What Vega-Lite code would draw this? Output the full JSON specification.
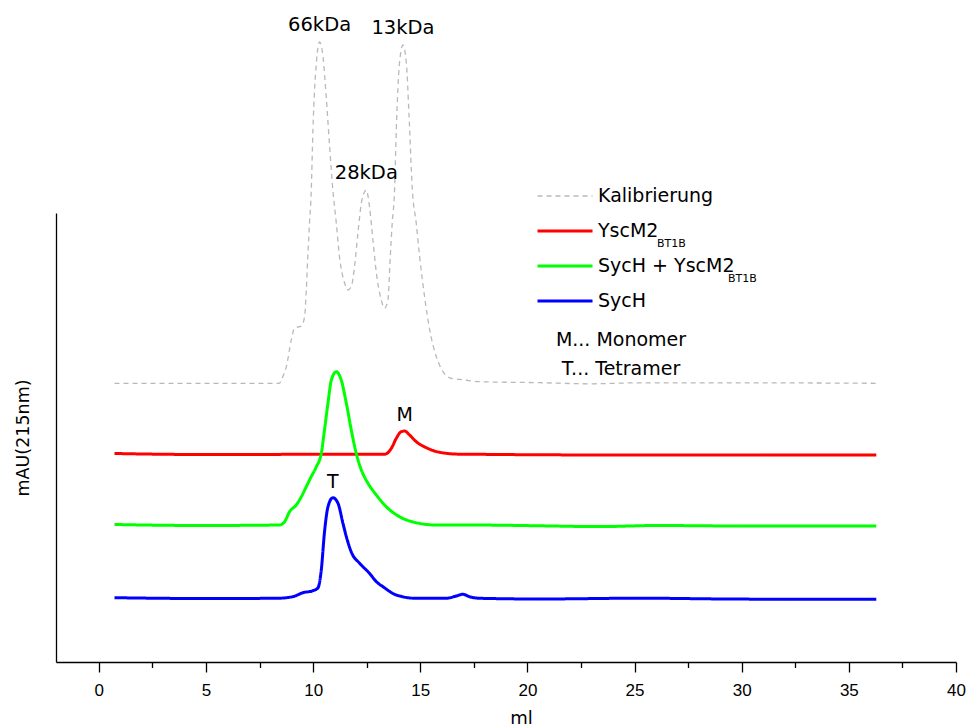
{
  "$schema": "https://vega.github.io/schema/vega-lite/v6.json",
  "width": 900,
  "height": 449,
  "autosize": {"type": "none"},
  "padding": {"left": 56, "top": 213, "right": 17, "bottom": 65},
  "background": "white",
  "config": {"view": {"stroke": null}, "font": "DejaVu Sans"},
  "title": {
    "text": ["M... Monomer", "T... Tetramer"],
    "orient": "top", "anchor": "start", "frame": "group", "align": "center",
    "baseline": "alphabetic", "offset": 0, "dx": 565, "dy": 379,
    "font": "DejaVu Sans", "fontSize": 19, "fontWeight": "normal",
    "lineHeight": 29, "color": "black"
  },
  "data": {
    "values": [
      {"series": "Kalibrierung", "ml": 0.73, "mAU": 278.7},
      {"series": "Kalibrierung", "ml": 4.7, "mAU": 278.7},
      {"series": "Kalibrierung", "ml": 8.43, "mAU": 278.7},
      {"series": "Kalibrierung", "ml": 8.51, "mAU": 282},
      {"series": "Kalibrierung", "ml": 8.75, "mAU": 295.3},
      {"series": "Kalibrierung", "ml": 8.98, "mAU": 322},
      {"series": "Kalibrierung", "ml": 9.13, "mAU": 334},
      {"series": "Kalibrierung", "ml": 9.45, "mAU": 336},
      {"series": "Kalibrierung", "ml": 9.6, "mAU": 345.3},
      {"series": "Kalibrierung", "ml": 9.68, "mAU": 372},
      {"series": "Kalibrierung", "ml": 9.75, "mAU": 405.3},
      {"series": "Kalibrierung", "ml": 9.83, "mAU": 439},
      {"series": "Kalibrierung", "ml": 9.91, "mAU": 470},
      {"series": "Kalibrierung", "ml": 9.99, "mAU": 532},
      {"series": "Kalibrierung", "ml": 10.15, "mAU": 599},
      {"series": "Kalibrierung", "ml": 10.3, "mAU": 620, "label": "66kDa"},
      {"series": "Kalibrierung", "ml": 10.46, "mAU": 605.3},
      {"series": "Kalibrierung", "ml": 10.61, "mAU": 565.3},
      {"series": "Kalibrierung", "ml": 10.77, "mAU": 515.3},
      {"series": "Kalibrierung", "ml": 10.92, "mAU": 472},
      {"series": "Kalibrierung", "ml": 11.08, "mAU": 439},
      {"series": "Kalibrierung", "ml": 11.23, "mAU": 405.3},
      {"series": "Kalibrierung", "ml": 11.47, "mAU": 379},
      {"series": "Kalibrierung", "ml": 11.62, "mAU": 372},
      {"series": "Kalibrierung", "ml": 11.78, "mAU": 375.3},
      {"series": "Kalibrierung", "ml": 11.93, "mAU": 395.3},
      {"series": "Kalibrierung", "ml": 12.09, "mAU": 429},
      {"series": "Kalibrierung", "ml": 12.25, "mAU": 459},
      {"series": "Kalibrierung", "ml": 12.4, "mAU": 470.3},
      {"series": "Kalibrierung", "ml": 12.48, "mAU": 472, "label": "28kDa"},
      {"series": "Kalibrierung", "ml": 12.63, "mAU": 455.3},
      {"series": "Kalibrierung", "ml": 12.79, "mAU": 422},
      {"series": "Kalibrierung", "ml": 12.95, "mAU": 389},
      {"series": "Kalibrierung", "ml": 13.18, "mAU": 362},
      {"series": "Kalibrierung", "ml": 13.33, "mAU": 353.7},
      {"series": "Kalibrierung", "ml": 13.49, "mAU": 362},
      {"series": "Kalibrierung", "ml": 13.6, "mAU": 405.3},
      {"series": "Kalibrierung", "ml": 13.69, "mAU": 439},
      {"series": "Kalibrierung", "ml": 13.8, "mAU": 472},
      {"series": "Kalibrierung", "ml": 13.88, "mAU": 532},
      {"series": "Kalibrierung", "ml": 14.03, "mAU": 599},
      {"series": "Kalibrierung", "ml": 14.19, "mAU": 617, "label": "13kDa"},
      {"series": "Kalibrierung", "ml": 14.35, "mAU": 599},
      {"series": "Kalibrierung", "ml": 14.47, "mAU": 549},
      {"series": "Kalibrierung", "ml": 14.63, "mAU": 472},
      {"series": "Kalibrierung", "ml": 14.81, "mAU": 439},
      {"series": "Kalibrierung", "ml": 14.97, "mAU": 405.3},
      {"series": "Kalibrierung", "ml": 15.2, "mAU": 365.3},
      {"series": "Kalibrierung", "ml": 15.44, "mAU": 332},
      {"series": "Kalibrierung", "ml": 15.75, "mAU": 305.3},
      {"series": "Kalibrierung", "ml": 16.06, "mAU": 290.3},
      {"series": "Kalibrierung", "ml": 16.45, "mAU": 283.7},
      {"series": "Kalibrierung", "ml": 16.84, "mAU": 282.7},
      {"series": "Kalibrierung", "ml": 17.77, "mAU": 280.3},
      {"series": "Kalibrierung", "ml": 20.57, "mAU": 279.3},
      {"series": "Kalibrierung", "ml": 22.9, "mAU": 278.2},
      {"series": "Kalibrierung", "ml": 25.24, "mAU": 279.2},
      {"series": "Kalibrierung", "ml": 29.9, "mAU": 279.2},
      {"series": "Kalibrierung", "ml": 36.28, "mAU": 278.7},

      {"series": "YscM2BT1B", "ml": 0.73, "mAU": 208.5},
      {"series": "YscM2BT1B", "ml": 4.7, "mAU": 207.5},
      {"series": "YscM2BT1B", "ml": 9.99, "mAU": 207.7},
      {"series": "YscM2BT1B", "ml": 12.01, "mAU": 207.8},
      {"series": "YscM2BT1B", "ml": 13.33, "mAU": 207.7},
      {"series": "YscM2BT1B", "ml": 13.65, "mAU": 213.7},
      {"series": "YscM2BT1B", "ml": 13.88, "mAU": 223.7},
      {"series": "YscM2BT1B", "ml": 14.11, "mAU": 230.3},
      {"series": "YscM2BT1B", "ml": 14.27, "mAU": 231, "label": "M"},
      {"series": "YscM2BT1B", "ml": 14.5, "mAU": 227},
      {"series": "YscM2BT1B", "ml": 14.81, "mAU": 220.3},
      {"series": "YscM2BT1B", "ml": 15.28, "mAU": 214.3},
      {"series": "YscM2BT1B", "ml": 15.9, "mAU": 209.7},
      {"series": "YscM2BT1B", "ml": 16.84, "mAU": 207.8},
      {"series": "YscM2BT1B", "ml": 18.24, "mAU": 207.6},
      {"series": "YscM2BT1B", "ml": 20.57, "mAU": 207.2},
      {"series": "YscM2BT1B", "ml": 25.24, "mAU": 207},
      {"series": "YscM2BT1B", "ml": 31.44, "mAU": 207},
      {"series": "YscM2BT1B", "ml": 36.28, "mAU": 207},

      {"series": "SycH + YscM2BT1B", "ml": 0.73, "mAU": 137.5},
      {"series": "SycH + YscM2BT1B", "ml": 4.7, "mAU": 136.5},
      {"series": "SycH + YscM2BT1B", "ml": 8.43, "mAU": 137},
      {"series": "SycH + YscM2BT1B", "ml": 8.67, "mAU": 140.3},
      {"series": "SycH + YscM2BT1B", "ml": 8.9, "mAU": 150.3},
      {"series": "SycH + YscM2BT1B", "ml": 9.21, "mAU": 157},
      {"series": "SycH + YscM2BT1B", "ml": 9.45, "mAU": 165.3},
      {"series": "SycH + YscM2BT1B", "ml": 9.68, "mAU": 175.3},
      {"series": "SycH + YscM2BT1B", "ml": 9.91, "mAU": 185.3},
      {"series": "SycH + YscM2BT1B", "ml": 10.15, "mAU": 195.3},
      {"series": "SycH + YscM2BT1B", "ml": 10.38, "mAU": 208.7},
      {"series": "SycH + YscM2BT1B", "ml": 10.53, "mAU": 232},
      {"series": "SycH + YscM2BT1B", "ml": 10.69, "mAU": 258.7},
      {"series": "SycH + YscM2BT1B", "ml": 10.85, "mAU": 282},
      {"series": "SycH + YscM2BT1B", "ml": 11.08, "mAU": 290.3},
      {"series": "SycH + YscM2BT1B", "ml": 11.31, "mAU": 282},
      {"series": "SycH + YscM2BT1B", "ml": 11.55, "mAU": 258.7},
      {"series": "SycH + YscM2BT1B", "ml": 11.78, "mAU": 232},
      {"series": "SycH + YscM2BT1B", "ml": 12.01, "mAU": 208.7},
      {"series": "SycH + YscM2BT1B", "ml": 12.25, "mAU": 192},
      {"series": "SycH + YscM2BT1B", "ml": 12.56, "mAU": 178.7},
      {"series": "SycH + YscM2BT1B", "ml": 12.95, "mAU": 167},
      {"series": "SycH + YscM2BT1B", "ml": 13.41, "mAU": 155.3},
      {"series": "SycH + YscM2BT1B", "ml": 14.03, "mAU": 145.3},
      {"series": "SycH + YscM2BT1B", "ml": 14.81, "mAU": 139.3},
      {"series": "SycH + YscM2BT1B", "ml": 15.75, "mAU": 137},
      {"series": "SycH + YscM2BT1B", "ml": 17.3, "mAU": 137},
      {"series": "SycH + YscM2BT1B", "ml": 18.7, "mAU": 136.8},
      {"series": "SycH + YscM2BT1B", "ml": 20.57, "mAU": 136.2},
      {"series": "SycH + YscM2BT1B", "ml": 23.37, "mAU": 135.4},
      {"series": "SycH + YscM2BT1B", "ml": 26.02, "mAU": 136.5},
      {"series": "SycH + YscM2BT1B", "ml": 29.9, "mAU": 136},
      {"series": "SycH + YscM2BT1B", "ml": 36.28, "mAU": 136},

      {"series": "SycH", "ml": 0.73, "mAU": 64.3},
      {"series": "SycH", "ml": 4.7, "mAU": 63.5},
      {"series": "SycH", "ml": 8.28, "mAU": 63.7},
      {"series": "SycH", "ml": 9.05, "mAU": 65.3},
      {"series": "SycH", "ml": 9.52, "mAU": 69.3},
      {"series": "SycH", "ml": 9.99, "mAU": 71.3},
      {"series": "SycH", "ml": 10.22, "mAU": 74},
      {"series": "SycH", "ml": 10.38, "mAU": 92},
      {"series": "SycH", "ml": 10.53, "mAU": 130},
      {"series": "SycH", "ml": 10.69, "mAU": 155},
      {"series": "SycH", "ml": 10.92, "mAU": 164.3, "label": "T"},
      {"series": "SycH", "ml": 11.16, "mAU": 158.7},
      {"series": "SycH", "ml": 11.39, "mAU": 138.7},
      {"series": "SycH", "ml": 11.55, "mAU": 125.3},
      {"series": "SycH", "ml": 11.8, "mAU": 109},
      {"series": "SycH", "ml": 12.17, "mAU": 98.7},
      {"series": "SycH", "ml": 12.63, "mAU": 88.7},
      {"series": "SycH", "ml": 12.95, "mAU": 80.3},
      {"series": "SycH", "ml": 13.26, "mAU": 75.3},
      {"series": "SycH", "ml": 13.88, "mAU": 67},
      {"series": "SycH", "ml": 14.81, "mAU": 63.7},
      {"series": "SycH", "ml": 16.21, "mAU": 63.7},
      {"series": "SycH", "ml": 16.68, "mAU": 66},
      {"series": "SycH", "ml": 16.99, "mAU": 67.7},
      {"series": "SycH", "ml": 17.3, "mAU": 65.3},
      {"series": "SycH", "ml": 17.77, "mAU": 63.7},
      {"series": "SycH", "ml": 20.57, "mAU": 63},
      {"series": "SycH", "ml": 25.24, "mAU": 63.8},
      {"series": "SycH", "ml": 29.9, "mAU": 62.9},
      {"series": "SycH", "ml": 36.28, "mAU": 62.7}
    ]
  },
  "resolve": {"scale": {"x": "shared", "y": "shared"}, "axis": {"x": "independent"}},
  "layer": [
    {
      "mark": {"type": "line", "interpolate": "monotone", "strokeJoin": "round"},
      "encoding": {
        "x": {
          "field": "ml", "type": "quantitative",
          "scale": {"domain": [-2, 40], "nice": false, "zero": false},
          "axis": {
            "orient": "bottom",
            "values": [0, 5, 10, 15, 20, 25, 30, 35, 40],
            "grid": false,
            "tickSize": 10, "tickColor": "black", "tickWidth": 1.3,
            "domainColor": "black", "domainWidth": 1.3,
            "labelFont": "Liberation Sans", "labelFontSize": 17, "labelColor": "black",
            "labelBaseline": "alphabetic", "labelPadding": 23, "labelFlush": false,
            "title": "ml", "titleFont": "DejaVu Sans", "titleFontSize": 18,
            "titleFontWeight": "normal", "titleColor": "black",
            "titleBaseline": "alphabetic", "titleX": 465, "titleY": 61
          }
        },
        "y": {
          "field": "mAU", "type": "quantitative",
          "scale": {"domain": [0, 449], "nice": false, "zero": false},
          "axis": {
            "grid": false, "ticks": false, "labels": false,
            "domainColor": "black", "domainWidth": 1.3,
            "title": "mAU(215nm)", "titleFont": "DejaVu Sans", "titleFontSize": 17.5,
            "titleFontWeight": "normal", "titleColor": "black",
            "titleAngle": -90, "titleBaseline": "alphabetic",
            "titleX": -28, "titleY": 224.5
          }
        },
        "color": {
          "field": "series", "type": "nominal",
          "scale": {
            "domain": ["Kalibrierung", "YscM2BT1B", "SycH + YscM2BT1B", "SycH"],
            "range": ["#b9b9b9", "#ff0000", "#00ff00", "#0000ff"]
          },
          "legend": {
            "orient": "none", "legendX": 480, "legendY": -27,
            "title": null, "padding": 0,
            "symbolType": "stroke", "symbolSize": 3025, "symbolStrokeWidth": 3,
            "labelFont": "DejaVu Sans", "labelFontSize": 19, "labelColor": "black",
            "labelOffset": 4, "labelLimit": 400,
            "labelExpr": "replace(datum.label, 'BT1B', '')",
            "rowPadding": 15, "clipHeight": 20,
            "encode": {"symbols": {"update": {
              "strokeWidth": {"signal": "(datum.value === 'Kalibrierung' ? 1.3 : 3)"},
              "strokeDash": {"signal": "(datum.value === 'Kalibrierung' ? [5, 4] : [1, 0])"}
            }}}
          }
        },
        "strokeDash": {
          "field": "series", "type": "nominal",
          "scale": {
            "domain": ["Kalibrierung", "YscM2BT1B", "SycH + YscM2BT1B", "SycH"],
            "range": [[5, 4], [1, 0], [1, 0], [1, 0]]
          },
          "legend": null
        },
        "opacity": {
          "field": "series", "type": "nominal",
          "scale": {"domain": ["YscM2BT1B", "SycH + YscM2BT1B"], "range": [1, 1]},
          "legend": {
            "orient": "none", "legendX": 480, "legendY": 21,
            "title": null, "padding": 0,
            "symbolType": "stroke", "symbolSize": 3025, "symbolOpacity": 0,
            "labelFont": "DejaVu Sans", "labelFontSize": 11, "labelColor": "black",
            "labelOffset": 6, "labelExpr": "'BT1B'",
            "rowPadding": 15, "clipHeight": 20,
            "encode": {
              "symbols": {"update": {"opacity": {"value": 0}, "strokeOpacity": {"value": 0}}},
              "labels": {"update": {"dx": {"signal": "(datum.value === 'YscM2BT1B' ? 58 : 129)"}}}
            }
          }
        },
        "strokeWidth": {
          "condition": {"test": "datum.series === 'Kalibrierung'", "value": 1.3},
          "value": 3
        }
      }
    },
    {
      "transform": [{"filter": "datum.series === 'Kalibrierung' && isValid(datum.label)"}],
      "mark": {"type": "text", "font": "DejaVu Sans", "fontSize": 19.5, "baseline": "alphabetic", "dy": -11, "color": "black"},
      "encoding": {
        "x": {
          "field": "ml", "type": "quantitative",
          "axis": {
            "orient": "bottom",
            "values": [2.5, 7.5, 12.5, 17.5, 22.5, 27.5, 32.5, 37.5],
            "grid": false, "labels": false, "domain": false, "title": null,
            "tickSize": 5.5, "tickColor": "black", "tickWidth": 1.3
          }
        },
        "y": {"field": "mAU", "type": "quantitative"},
        "text": {"field": "label"}
      }
    },
    {
      "transform": [{"filter": "datum.series !== 'Kalibrierung' && isValid(datum.label)"}],
      "mark": {"type": "text", "font": "DejaVu Sans", "fontSize": 19, "baseline": "alphabetic", "dy": -10, "color": "black"},
      "encoding": {
        "x": {"field": "ml", "type": "quantitative", "axis": null},
        "y": {"field": "mAU", "type": "quantitative"},
        "text": {"field": "label"}
      }
    }
  ]
}
